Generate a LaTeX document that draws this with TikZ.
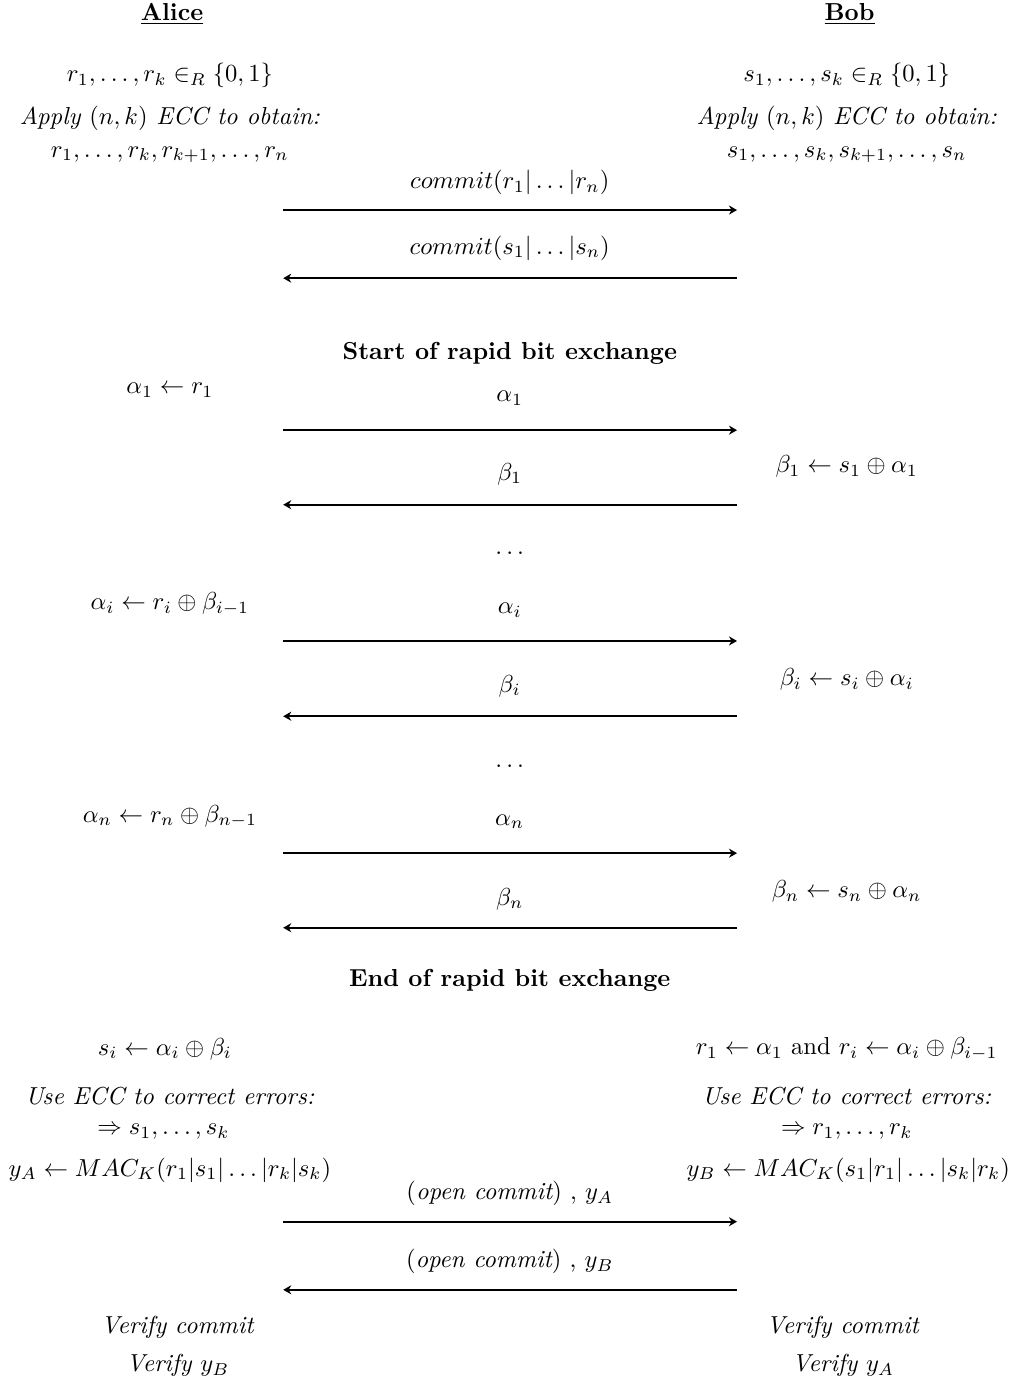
\documentclass[tikz,border=0pt]{standalone}
\usepackage{amsmath,amssymb}
\usetikzlibrary{arrows.meta}

\begin{document}
\begin{tikzpicture}[msg/.style={thick,-{Stealth[length=3.2pt,width=3.6pt]}},
  every node/.style={scale=0.975}]
\useasboundingbox (0,0) rectangle (14.14,-19.29);
%\def\L{2.37} \def\R{11.81}
\path
(2.40,-0.20) node (alice) {\underline{\textbf{Alice}}}
(11.85,-0.20) node (bob) {\underline{\textbf{Bob}}}
(2.37,-1.05) node (ra) {$r_1,\ldots,r_k\in_R\{0,1\}$}
(11.81,-1.05) node (sa) {$s_1,\ldots,s_k\in_R\{0,1\}$}
(2.37,-1.65) node (ecca) {\textit{Apply $(n,k)$ ECC to obtain:}}
(11.81,-1.65) node (eccb) {\textit{Apply $(n,k)$ ECC to obtain:}}
(2.37,-2.16) node (rn) {$r_1,\ldots,r_k,r_{k+1},\ldots,r_n$}
(11.81,-2.16) node (sn) {$s_1,\ldots,s_k,s_{k+1},\ldots,s_n$}
(7.11,-2.55) node (mc1) {$commit(r_1|\ldots|r_n)$}
(7.11,-3.46) node (mc2) {$commit(s_1|\ldots|s_n)$}
(7.11,-4.93) node (start) {\textbf{Start of rapid bit exchange}}
(2.37,-5.44) node (a1) {$\alpha_1\leftarrow r_1$}
(7.11,-5.55) node (ma1) {$\alpha_1$}
(7.11,-6.61) node (mb1) {$\beta_1$}
(11.81,-6.51) node (b1) {$\beta_1\leftarrow s_1\oplus\alpha_1$}
(7.11,-7.72) node (dots1) {$\ldots$}
(2.37,-8.42) node (ai) {$\alpha_i\leftarrow r_i\oplus\beta_{i-1}$}
(7.11,-8.51) node (mai) {$\alpha_i$}
(7.11,-9.57) node (mbi) {$\beta_i$}
(11.81,-9.48) node (bi) {$\beta_i\leftarrow s_i\oplus\alpha_i$}
(7.11,-10.69) node (dots2) {$\ldots$}
(2.37,-11.39) node (an) {$\alpha_n\leftarrow r_n\oplus\beta_{n-1}$}
(7.11,-11.46) node (man) {$\alpha_n$}
(7.11,-12.54) node (mbn) {$\beta_n$}
(11.81,-12.43) node (bn) {$\beta_n\leftarrow s_n\oplus\alpha_n$}
(7.11,-13.67) node (end) {\textbf{End of rapid bit exchange}}
(2.30,-14.63) node (si) {$s_i\leftarrow\alpha_i\oplus\beta_i$}
(11.81,-14.63) node (ri) {$r_1\leftarrow\alpha_1$ and $r_i\leftarrow\alpha_i\oplus\beta_{i-1}$}
(2.37,-15.29) node (usea) {\textit{Use ECC to correct errors:}}
(11.81,-15.29) node (useb) {\textit{Use ECC to correct errors:}}
(2.28,-15.79) node (sk) {$\Rightarrow s_1,\ldots,s_k$}
(11.81,-15.79) node (rk) {$\Rightarrow r_1,\ldots,r_k$}
(2.37,-16.32) node (ya) {$y_A\leftarrow MAC_K(r_1|s_1|\ldots|r_k|s_k)$}
(11.83,-16.32) node (yb) {$y_B\leftarrow MAC_K(s_1|r_1|\ldots|s_k|r_k)$}
(7.11,-16.65) node (mya) {$(\textit{open commit})$ , $y_A$}
(7.11,-17.60) node (myb) {$(\textit{open commit})$ , $y_B$}
(2.48,-18.52) node (vca) {\textit{Verify commit}}
(11.76,-18.52) node (vcb) {\textit{Verify commit}}
(2.48,-19.05) node (vya) {\textit{Verify $y_B$}}
(11.76,-19.05) node (vyb) {\textit{Verify $y_A$}};
% arrow ends
\foreach \n/\y in {1/-2.93,2/-3.88,3/-6.00,4/-7.04,5/-8.94,6/-9.99,7/-11.90,8/-12.94,9/-17.04,10/-17.99}
  {\coordinate (l\n) at (3.95,\y); \coordinate (r\n) at (10.28,\y);}
\draw[msg] (l1)--(r1);
\draw[msg] (r2)--(l2);
\draw[msg] (l3)--(r3);
\draw[msg] (r4)--(l4);
\draw[msg] (l5)--(r5);
\draw[msg] (r6)--(l6);
\draw[msg] (l7)--(r7);
\draw[msg] (r8)--(l8);
\draw[msg] (l9)--(r9);
\draw[msg] (r10)--(l10);
\end{tikzpicture}
\end{document}
